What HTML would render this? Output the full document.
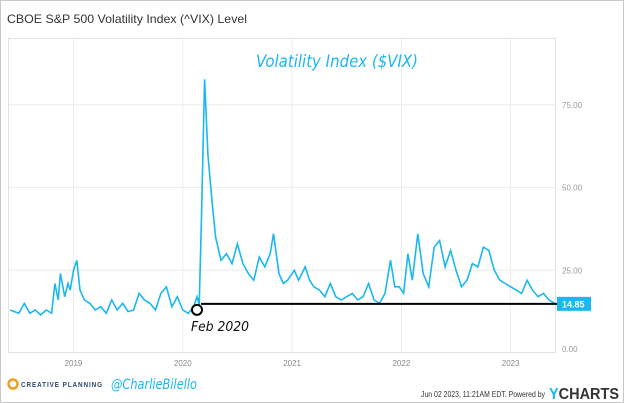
<!DOCTYPE html>
<html><head><meta charset="utf-8"><style>
body{margin:0;background:#fff;font-family:"Liberation Sans",sans-serif}
#wrap{position:relative;width:622px;height:401px;border:1px solid #c8c8c8;overflow:hidden}
</style></head><body>
<div id="wrap">
<svg id="svg" width="622" height="401" xmlns="http://www.w3.org/2000/svg">
<text x="6" y="22" font-size="12" fill="#333" font-family="Liberation Sans" textLength="240" lengthAdjust="spacingAndGlyphs">CBOE S&amp;P 500 Volatility Index (^VIX) Level</text>
<rect x="7.5" y="37.5" width="547" height="314" fill="none" stroke="#e2e2e2"/>
<g id="grid"></g>
<text x="255" y="66" font-size="17" fill="#1ab8f0" font-family="DejaVu Sans" font-style="italic" textLength="162" lengthAdjust="spacingAndGlyphs">Volatility Index ($VIX)</text>
<g id="series"></g>
<g id="ann"></g>
<g>
<circle cx="12" cy="383" r="4.5" fill="none" stroke="#f0a020" stroke-width="2.5"/>
<text x="20" y="386" font-size="7" font-weight="bold" fill="#2a4a6a" letter-spacing="1" textLength="82" lengthAdjust="spacingAndGlyphs">CREATIVE PLANNING</text>
<text x="110" y="388" font-size="14" font-style="italic" fill="#1ab8f0" font-family="DejaVu Sans" textLength="86" lengthAdjust="spacingAndGlyphs">@CharlieBilello</text>
<text x="420" y="396" font-size="8.5" fill="#333" textLength="124" lengthAdjust="spacingAndGlyphs">Jun 02 2023, 11:21AM EDT.  Powered by</text>
<text x="548" y="398" font-size="16" font-weight="bold" fill="#333" textLength="70" lengthAdjust="spacingAndGlyphs"><tspan fill="#1ab8f0">Y</tspan>CHARTS</text>
</g>
</svg>
</div>
<script>
const dates=[2018.42,2018.5,2018.55,2018.6,2018.65,2018.7,2018.75,2018.8,2018.83,2018.86,2018.88,2018.92,2018.95,2018.97,2019.0,2019.03,2019.06,2019.1,2019.15,2019.2,2019.25,2019.3,2019.35,2019.4,2019.45,2019.5,2019.55,2019.6,2019.65,2019.7,2019.75,2019.8,2019.85,2019.9,2019.95,2020.0,2020.05,2020.1,2020.13,2020.15,2020.17,2020.2,2020.23,2020.27,2020.3,2020.35,2020.4,2020.45,2020.5,2020.55,2020.6,2020.65,2020.7,2020.75,2020.8,2020.83,2020.88,2020.92,2020.96,2021.02,2021.06,2021.12,2021.16,2021.2,2021.25,2021.3,2021.35,2021.4,2021.45,2021.5,2021.55,2021.6,2021.65,2021.7,2021.75,2021.8,2021.85,2021.9,2021.94,2021.98,2022.02,2022.06,2022.1,2022.15,2022.2,2022.25,2022.3,2022.35,2022.4,2022.45,2022.5,2022.55,2022.6,2022.65,2022.7,2022.75,2022.8,2022.85,2022.9,2022.95,2023.0,2023.05,2023.1,2023.15,2023.2,2023.25,2023.3,2023.35,2023.41];
const vix=[13,12,15,12,13,11.5,13,12,21,16,24,17,21,19,25,28,19,16,15,13,14,12,16,13,15,12.5,13,18,16,15,13,18,20,14,17,13,12,14,17,14.5,40,82.7,60,45,35,28,30,27,33,27,24,22,29,26,30,36,24,21,22,25,22,26,22,20,19,17,21,17,16,17,18,16,17,21,16,15,18,28,20,20,18,30,22,36,24,20,32,34,26,31,25,20,22,27,26,32,31,25,22,21,20,19,18,22,19,17,18,16,14.85];
const yTicks=[0,25,50,75];
const yTickLabels=["0.00","25.00","50.00","75.00"];
const xTicks=[2019,2020,2021,2022,2023];
const xTickLabels=["2019","2020","2021","2022","2023"];
const refDate=2020.13, refValue=14.85, lastLabel="14.85";
const NS="http://www.w3.org/2000/svg";
const xS=d=>8+(d-2018.41)*109.3;
const yS=v=>352-v*3.31;
function mk(tag,attrs,parent){const e=document.createElementNS(NS,tag);for(const k in attrs)e.setAttribute(k,attrs[k]);parent.appendChild(e);return e;}
const grid=document.getElementById('grid');
yTicks.forEach((t,i)=>{
 if(t>0){const l=mk('line',{x1:8,x2:555,y1:yS(t),y2:yS(t),stroke:'#ececec'},grid);
 
 }
 const tx=mk('text',{x:561,y:yS(t)+(t===0?-1:3),'font-size':8,fill:'#999'},grid);tx.textContent=yTickLabels[i];
 
 
});
xTicks.forEach((t,i)=>{
 const l=mk('line',{x1:xS(t),x2:xS(t),y1:38,y2:352,stroke:'#ececec'},grid);
 
 
 const tx=mk('text',{x:xS(t),y:365,'font-size':8,fill:'#888','text-anchor':'middle'},grid);tx.textContent=xTickLabels[i];
 
 
});
const s=document.getElementById('series');
const p=mk('path',{d:dates.map((d,i)=>(i?'L':'M')+xS(d).toFixed(1)+','+yS(vix[i]).toFixed(1)).join(''),fill:'none',stroke:'#1ab8f0','stroke-width':1.6},s);


const a=document.getElementById('ann');
const hl=mk('line',{x1:xS(refDate)+4,x2:556,y1:yS(refValue),y2:yS(refValue),stroke:'#000','stroke-width':2},a);


const c=mk('circle',{cx:xS(refDate),cy:yS(refValue)+6,r:5,fill:'#fff',stroke:'#000','stroke-width':2},a);


const ft=mk('text',{x:190,y:330,'font-size':13,fill:'#111','font-family':'DejaVu Sans','font-style':'italic',textLength:58,lengthAdjust:'spacingAndGlyphs'},a);ft.textContent='Feb 2020';


const lb=mk('rect',{x:556,y:yS(refValue)-7,width:34,height:14,fill:'#1ab8f0'},a);


const lt=mk('text',{x:561,y:yS(refValue)+3.5,'font-size':9,'font-weight':'bold',fill:'#fff'},a);lt.textContent=lastLabel;


</script>
</body></html>
